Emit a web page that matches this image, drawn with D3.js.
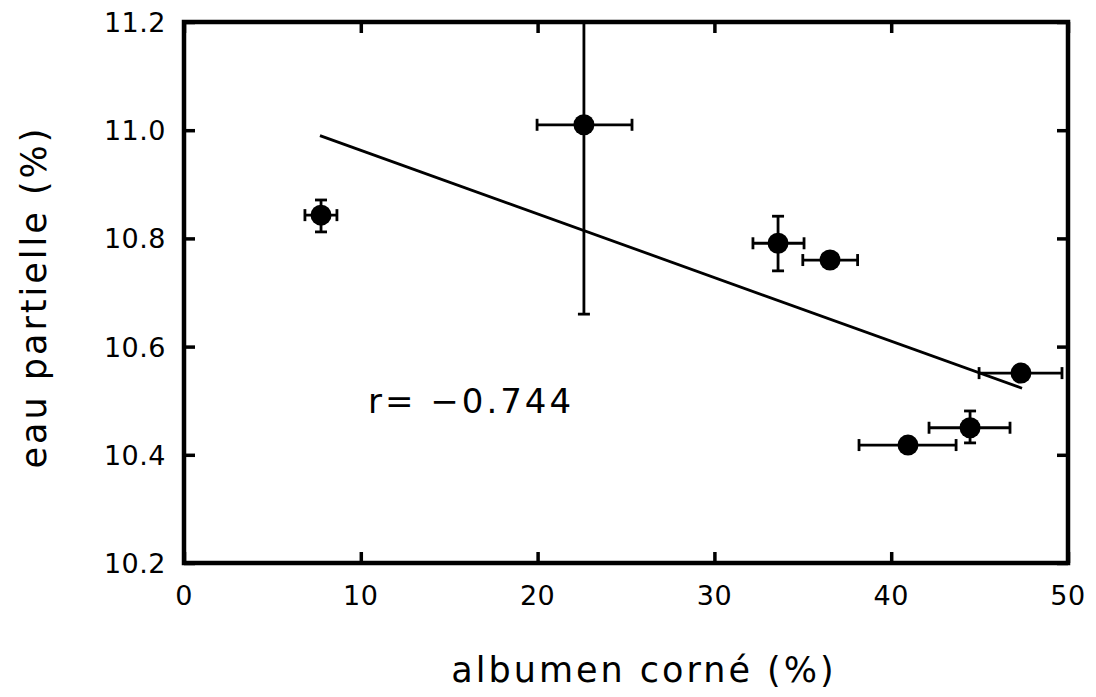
<!DOCTYPE html>
<html><head><meta charset="utf-8">
<script src="https://cdn.jsdelivr.net/npm/d3@7"></script>
<style>html,body{margin:0;padding:0;background:#fff;}</style>
</head><body>
<script>
const xVals   = [7.75, 22.62, 33.6, 36.54, 47.34, 44.46, 40.95];
const yVals   = [10.843, 11.01, 10.791, 10.76, 10.551, 10.45, 10.418];
const xErrLo  = [6.84, 19.97, 32.18, 35.0, 44.97, 42.14, 38.18];
const xErrHi  = [8.65, 25.34, 35.07, 38.1, 49.66, 46.72, 43.67];
const yErrLo  = [10.812, 10.66, 10.74, null, null, 10.422, null];
const yErrHi  = [10.871, 11.36, 10.841, null, null, 10.481, null];
const fitX = [7.69, 47.4];
const fitY = [10.99, 10.523];
const xTicks = [0, 10, 20, 30, 40, 50];
const yTicks = [10.2, 10.4, 10.6, 10.8, 11.0, 11.2];
const xLabel = "albumen corné (%)";
const yLabel = "eau partielle (%)";
const rText = "r= \u22120.744";

const W = 1096, H = 697;
const L = 184, R = 1068, T = 22, B = 563;
const svg = d3.select("body").append("svg").attr("width", W).attr("height", H);
const x = d3.scaleLinear().domain([0, 50]).range([L, R]);
const y = d3.scaleLinear().domain([10.2, 11.2]).range([B, T]);
const font = "DejaVu Sans, sans-serif";

svg.append("defs").append("clipPath").attr("id","clip")
  .append("rect").attr("x", L).attr("y", T).attr("width", R-L).attr("height", B-T);

// ticks (inward, all four sides)
const tl = 11;
function styleAxis(g){ g.select(".domain").remove(); g.selectAll("line").attr("stroke","#000").attr("stroke-width",3.5); }
svg.append("g").attr("transform",`translate(0,${B})`).call(d3.axisTop(x).tickValues(xTicks).tickSize(tl).tickFormat("")).call(styleAxis);
svg.append("g").attr("transform",`translate(0,${T})`).call(d3.axisBottom(x).tickValues(xTicks).tickSize(tl).tickFormat("")).call(styleAxis);
svg.append("g").attr("transform",`translate(${L},0)`).call(d3.axisRight(y).tickValues(yTicks).tickSize(tl).tickFormat("")).call(styleAxis);
svg.append("g").attr("transform",`translate(${R},0)`).call(d3.axisLeft(y).tickValues(yTicks).tickSize(tl).tickFormat("")).call(styleAxis);

// frame
svg.append("rect").attr("x", L).attr("y", T).attr("width", R-L).attr("height", B-T)
  .attr("fill","none").attr("stroke","#000").attr("stroke-width",4.5);

// tick labels
svg.append("g").selectAll("text").data(xTicks).join("text")
  .attr("x", d => x(d)).attr("y", 605).attr("text-anchor","middle")
  .attr("font-family", font).attr("font-size", 27).attr("letter-spacing", 0.5).text(d => d);
svg.append("g").selectAll("text").data(yTicks).join("text")
  .attr("x", 166).attr("y", d => y(d) + 10).attr("text-anchor","end")
  .attr("font-family", font).attr("font-size", 27).attr("letter-spacing", 0.5).text(d => d.toFixed(1));

// axis titles
svg.append("text").attr("x", 644).attr("y", 682).attr("text-anchor","middle")
  .attr("font-family", font).attr("font-size", 35).attr("letter-spacing", 3).text(xLabel);
svg.append("text").attr("transform", `translate(46,297) rotate(-90)`).attr("text-anchor","middle")
  .attr("font-family", font).attr("font-size", 35).attr("letter-spacing", 3).text(yLabel);

// annotation
svg.append("text").attr("x", 368).attr("y", 413).attr("font-family", font)
  .attr("font-size", 34).attr("letter-spacing", 3).text(rText);

const plot = svg.append("g").attr("clip-path","url(#clip)");
// regression line
plot.append("line").attr("x1", x(fitX[0])).attr("y1", y(fitY[0])).attr("x2", x(fitX[1])).attr("y2", y(fitY[1]))
  .attr("stroke","#000").attr("stroke-width",2.8);

const data = xVals.map((v,i)=>({x:v, y:yVals[i], xl:xErrLo[i], xh:xErrHi[i], yl:yErrLo[i], yh:yErrHi[i]}));
const cap = 6;
const eb = plot.append("g").attr("stroke","#000").attr("stroke-width",2.8);
data.forEach(d => {
  eb.append("line").attr("x1", x(d.xl)).attr("x2", x(d.xh)).attr("y1", y(d.y)).attr("y2", y(d.y));
  eb.append("line").attr("x1", x(d.xl)).attr("x2", x(d.xl)).attr("y1", y(d.y)-cap).attr("y2", y(d.y)+cap);
  eb.append("line").attr("x1", x(d.xh)).attr("x2", x(d.xh)).attr("y1", y(d.y)-cap).attr("y2", y(d.y)+cap);
  if (d.yl != null) {
    eb.append("line").attr("x1", x(d.x)).attr("x2", x(d.x)).attr("y1", y(d.yl)).attr("y2", y(d.yh));
    eb.append("line").attr("x1", x(d.x)-cap).attr("x2", x(d.x)+cap).attr("y1", y(d.yl)).attr("y2", y(d.yl));
    eb.append("line").attr("x1", x(d.x)-cap).attr("x2", x(d.x)+cap).attr("y1", y(d.yh)).attr("y2", y(d.yh));
  }
});
plot.append("g").selectAll("circle").data(data).join("circle")
  .attr("cx", d => x(d.x)).attr("cy", d => y(d.y)).attr("r", 10.5).attr("fill","#000");
</script>
</body></html>
